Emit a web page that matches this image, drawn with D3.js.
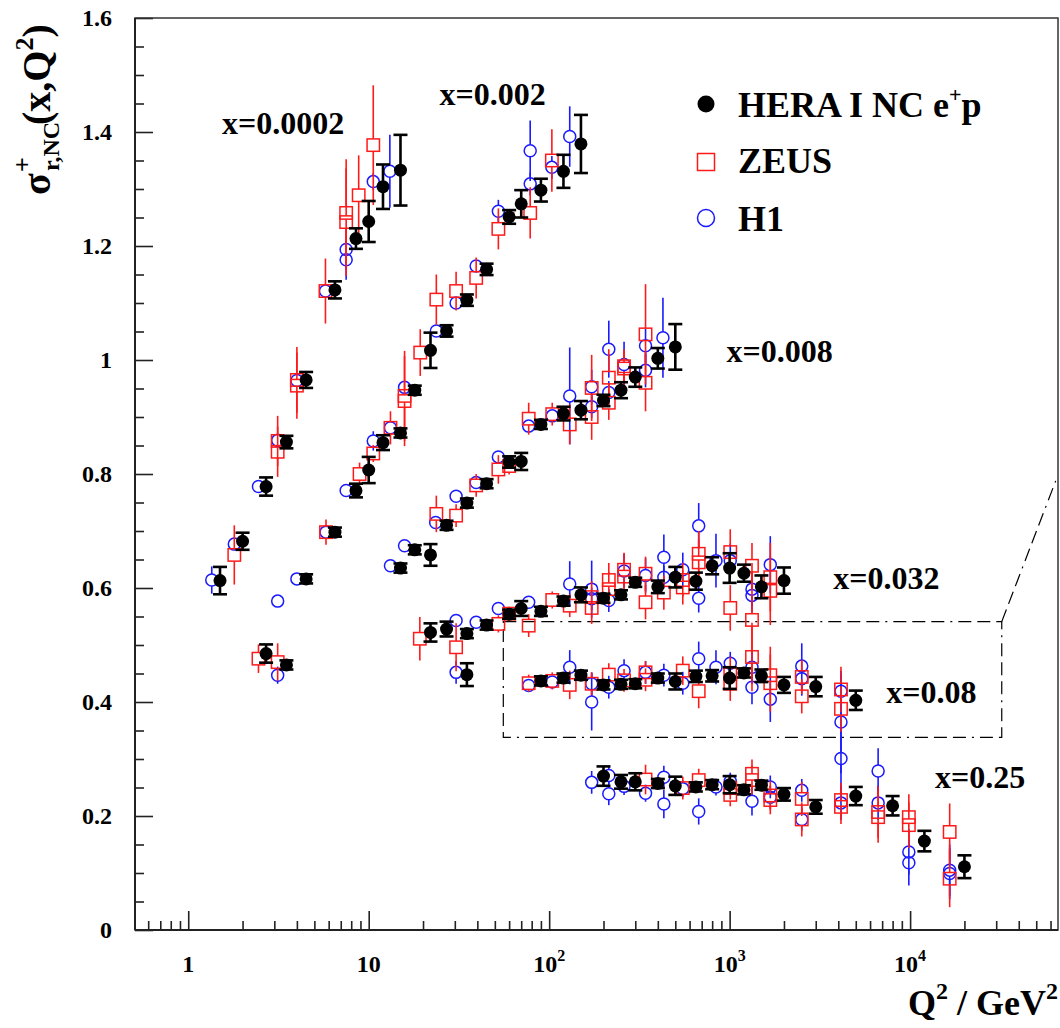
<!DOCTYPE html>
<html><head><meta charset="utf-8">
<script src="https://cdn.jsdelivr.net/npm/d3@7"></script>
<style>
body{margin:0;background:#fff}
svg{display:block}
text{font-family:"Liberation Serif","Times New Roman",serif;font-weight:bold;fill:#000}
</style>
</head><body>
<svg id="chart" width="1060" height="1028"></svg>
<script>
// ---------------- DATA: [Q2 (GeV^2), sigma_r, error] ----------------
// HERA I NC e+p (combined)
const heraX0002 = [[1.5,0.613,0.024],[2.0,0.682,0.015],[2.7,0.778,0.016],[3.5,0.856,0.011],[4.5,0.965,0.014],[6.5,1.123,0.015],[8.5,1.213,0.018],[10,1.243,0.036],[12,1.304,0.039],[15,1.333,0.062]];
const heraX002 = [[2.7,0.485,0.016],[3.5,0.465,0.008],[4.5,0.616,0.008],[6.5,0.698,0.008],[8.5,0.771,0.012],[10,0.807,0.023],[12,0.855,0.013],[15,0.872,0.008],[18,0.947,0.008],[22,1.017,0.031],[27,1.051,0.01],[35,1.105,0.01],[45,1.159,0.01],[60,1.251,0.012],[70,1.274,0.024],[90,1.298,0.02],[120,1.331,0.029],[150,1.379,0.051]];
const heraX008 = [[15,0.635,0.008],[18,0.667,0.008],[22,0.658,0.019],[27,0.710,0.008],[35,0.749,0.008],[45,0.783,0.008],[60,0.821,0.01],[70,0.822,0.015],[90,0.887,0.008],[120,0.906,0.012],[150,0.912,0.016],[200,0.929,0.01],[250,0.947,0.014],[300,0.970,0.017],[400,1.003,0.018],[500,1.023,0.04]];
const heraX032 = [[22,0.522,0.016],[27,0.528,0.013],[35,0.520,0.008],[35,0.448,0.02],[45,0.535,0.008],[60,0.554,0.008],[70,0.564,0.013],[90,0.559,0.008],[120,0.577,0.008],[150,0.588,0.013],[200,0.582,0.008],[250,0.588,0.008],[300,0.610,0.008],[400,0.602,0.011],[500,0.619,0.018],[650,0.612,0.015],[800,0.639,0.015],[1000,0.635,0.026],[1200,0.626,0.015],[1500,0.602,0.02],[2000,0.613,0.023]];
const heraX08 = [[90,0.437,0.008],[120,0.442,0.008],[150,0.447,0.008],[200,0.430,0.008],[250,0.431,0.008],[300,0.432,0.008],[400,0.442,0.008],[500,0.436,0.014],[650,0.445,0.01],[800,0.446,0.01],[1000,0.442,0.019],[1200,0.451,0.008],[1500,0.446,0.011],[2000,0.430,0.014],[3000,0.427,0.017],[5000,0.403,0.017]];
const heraX25 = [[200,0.270,0.017],[250,0.260,0.012],[300,0.260,0.015],[400,0.257,0.008],[500,0.253,0.016],[650,0.251,0.008],[800,0.255,0.008],[1000,0.255,0.015],[1200,0.246,0.008],[1500,0.254,0.008],[2000,0.238,0.011],[3000,0.216,0.012],[5000,0.235,0.016],[8000,0.218,0.017],[12000,0.156,0.018],[20000,0.111,0.02]];

// ZEUS
const zeusX0002 = [[1.8,0.658,0.052],[3.13,0.858,0.044],[3.13,0.839,0.044],[4.0,0.965,0.058],[4.0,0.955,0.058],[5.76,1.121,0.057],[7.5,1.258,0.094],[7.5,1.242,0.094],[8.8,1.289,0.07],[10.6,1.377,0.105]];
const zeusX002 = [[2.45,0.476,0.025],[3.13,0.470,0.033],[5.8,0.698,0.022],[8.9,0.800,0.02],[10.6,0.836,0.015],[13.2,0.881,0.029],[15.8,0.937,0.079],[15.8,0.928,0.079],[19.3,1.013,0.041],[23.7,1.106,0.044],[30.5,1.121,0.034],[39.4,1.144,0.036],[52.3,1.230,0.036],[78.5,1.258,0.045],[103.5,1.350,0.055]];
const zeusX008 = [[23.7,0.730,0.032],[30.5,0.727,0.02],[39.4,0.780,0.02],[52.3,0.808,0.025],[60,0.814,0.015],[77,0.897,0.028],[104,0.905,0.02],[130,0.887,0.035],[172,0.951,0.058],[172,0.900,0.04],[214,0.969,0.05],[214,0.925,0.03],[260,0.989,0.03],[260,0.985,0.03],[342,1.045,0.088],[342,0.960,0.05]];
const zeusX032 = [[19.2,0.511,0.038],[30.5,0.496,0.042],[52.3,0.537,0.015],[60,0.555,0.012],[77,0.534,0.02],[104,0.579,0.015],[130,0.569,0.02],[172,0.584,0.028],[172,0.565,0.028],[214,0.614,0.03],[214,0.598,0.03],[260,0.632,0.03],[260,0.620,0.03],[342,0.625,0.03],[342,0.575,0.03],[432,0.592,0.03],[550,0.614,0.03],[550,0.601,0.03],[674,0.660,0.04],[674,0.645,0.04],[1008,0.663,0.04],[1008,0.565,0.04],[1330,0.639,0.04],[1330,0.544,0.1],[1680,0.619,0.06],[1680,0.595,0.06]];
const zeusX08 = [[77,0.433,0.015],[104,0.437,0.015],[130,0.430,0.025],[172,0.432,0.02],[214,0.448,0.02],[260,0.438,0.02],[342,0.452,0.02],[342,0.439,0.02],[550,0.455,0.025],[674,0.419,0.03],[1008,0.449,0.03],[1008,0.432,0.03],[1330,0.479,0.06],[1680,0.447,0.05],[1680,0.433,0.05],[2510,0.444,0.03],[2510,0.410,0.03],[4140,0.422,0.04],[4140,0.388,0.04]];
const zeusX25 = [[342,0.264,0.026],[550,0.249,0.02],[674,0.263,0.02],[1008,0.249,0.02],[1008,0.237,0.02],[1330,0.274,0.025],[1330,0.263,0.025],[1680,0.236,0.025],[1680,0.228,0.025],[2510,0.230,0.03],[2510,0.194,0.03],[4140,0.228,0.03],[4140,0.216,0.03],[6650,0.207,0.045],[6650,0.198,0.045],[9840,0.198,0.04],[9840,0.184,0.04],[16570,0.172,0.05],[16570,0.090,0.05]];

// H1
const h1X0002 = [[1.35,0.614,0.024],[1.8,0.677,0.01],[2.45,0.778,0.01],[3.13,0.859,0.01],[4.0,0.964,0.01],[5.76,1.121,0.01],[7.5,1.194,0.035],[7.5,1.176,0.035],[10.6,1.313,0.015],[13.1,1.331,0.064]];
const h1X002 = [[3.13,0.447,0.015],[3.13,0.577,0.01],[4.0,0.616,0.01],[5.8,0.698,0.01],[7.5,0.771,0.01],[10.6,0.858,0.017],[13.2,0.881,0.01],[15.8,0.952,0.01],[23.7,1.051,0.01],[30.5,1.100,0.01],[39.4,1.165,0.01],[52.3,1.261,0.02],[78.5,1.309,0.02],[78.5,1.367,0.053],[103.5,1.338,0.02],[130,1.392,0.053]];
const h1X008 = [[13.2,0.639,0.01],[15.8,0.674,0.01],[23.5,0.715,0.01],[30.5,0.761,0.01],[39.4,0.785,0.01],[52.3,0.830,0.01],[77,0.884,0.01],[104,0.902,0.01],[130,0.937,0.085],[172,0.918,0.02],[172,0.953,0.03],[214,1.019,0.05],[214,0.943,0.02],[260,0.992,0.04],[342,1.025,0.03],[342,0.982,0.03],[427,1.039,0.07]];
const h1X032 = [[30.5,0.543,0.01],[30.5,0.452,0.02],[39.4,0.540,0.01],[52.3,0.564,0.01],[77,0.575,0.01],[130,0.607,0.04],[172,0.598,0.05],[172,0.581,0.02],[214,0.578,0.02],[260,0.630,0.03],[342,0.622,0.03],[432,0.654,0.04],[432,0.619,0.02],[550,0.632,0.03],[674,0.709,0.04],[674,0.582,0.025],[840,0.648,0.047],[1008,0.648,0.03],[1330,0.598,0.03],[1330,0.587,0.03],[1680,0.641,0.05]];
const h1X08 = [[77,0.429,0.01],[104,0.435,0.01],[130,0.461,0.03],[172,0.432,0.02],[172,0.400,0.05],[214,0.426,0.02],[260,0.455,0.02],[342,0.452,0.02],[432,0.447,0.02],[550,0.433,0.02],[674,0.476,0.03],[840,0.461,0.03],[1008,0.468,0.02],[1330,0.461,0.03],[1330,0.426,0.03],[1680,0.405,0.04],[2510,0.463,0.04],[2510,0.441,0.03],[4140,0.419,0.03],[4140,0.365,0.09]];
const h1X25 = [[172,0.259,0.02],[214,0.271,0.015],[214,0.239,0.02],[260,0.252,0.015],[342,0.240,0.015],[432,0.268,0.02],[432,0.221,0.025],[550,0.248,0.015],[674,0.208,0.023],[840,0.251,0.015],[1008,0.261,0.015],[1330,0.226,0.025],[1680,0.251,0.02],[1680,0.233,0.02],[2510,0.245,0.02],[2510,0.194,0.02],[4140,0.301,0.09],[4140,0.223,0.03],[6650,0.279,0.04],[6650,0.223,0.03],[9840,0.137,0.04],[9840,0.118,0.04],[16570,0.105,0.045],[16570,0.099,0.045]];

// bin labels and their anchor (Q2, sigma) in data coordinates
const binLabels = ["x=0.0002","x=0.002","x=0.008","x=0.032","x=0.08","x=0.25"];
const binLabelQ2 = [1.54, 24.7, 962, 3756, 7370, 13740];
const binLabelSigma = [1.396, 1.447, 0.9965, 0.599, 0.399, 0.249];

// tick labels
const yTickValues = [0,0.2,0.4,0.6,0.8,1.0,1.2,1.4,1.6];
const yTickLabels = ["0","0.2","0.4","0.6","0.8","1","1.2","1.4","1.6"];
const xTickValues = [1,10,100,1000,10000];
const xTickBase = ["1","10","10","10","10"];
const xTickExp = ["","","2","3","4"];

// zoom box (data coords) : Q2 range, sigma range, and pointer end
const boxQ2 = [55.7, 32200];
const boxSigma = [0.338, 0.541];
const pointerEnd = [64100, 0.788];

// ---------------- DRAWING ----------------
const svg = d3.select("#chart");
const M = {l:135, r:1058, t:18, b:930};
const x = d3.scaleLog().domain([0.507, 66000]).range([M.l, M.r]);
const y = d3.scaleLinear().domain([0, 1.6]).range([M.b, M.t]);

svg.append("defs").append("clipPath").attr("id","plotclip")
  .append("rect").attr("x",M.l).attr("y",M.t).attr("width",M.r-M.l).attr("height",M.b-M.t);

// Y axis: major and minor ticks (inside)
const yMinor = d3.range(0, 1.6001, 0.05).filter(v => Math.abs(Math.round(v*5)-v*5) > 1e-6);
const yAxMinor = svg.append("g").attr("transform",`translate(${M.l},0)`)
  .call(d3.axisLeft(y).tickValues(yMinor).tickSize(-9).tickSizeOuter(0).tickFormat(""));
const yAxMajor = svg.append("g").attr("transform",`translate(${M.l},0)`)
  .call(d3.axisLeft(y).tickValues(yTickValues).tickSize(-18).tickSizeOuter(0).tickPadding(23)
    .tickFormat((d,i)=>yTickLabels[i]));
[yAxMinor,yAxMajor].forEach(g=>{
  g.select(".domain").remove();
  g.selectAll("line").attr("stroke","#222").attr("stroke-width",1.6);
});
yAxMajor.selectAll("text").attr("font-size",24).attr("font-family","Liberation Serif").attr("font-weight","bold").attr("fill","#000");

// X axis minor ticks
const xMinor = [];
for (let e=-1; e<=4; e++) for (let k=2; k<=9; k++) { const v=k*Math.pow(10,e); if (v>=0.507 && v<=66000) xMinor.push(v); }
const xAxMinor = svg.append("g").attr("transform",`translate(0,${M.b})`)
  .call(d3.axisBottom(x).tickValues(xMinor).tickSize(-9).tickSizeOuter(0).tickFormat(""));
const xAxMajor = svg.append("g").attr("transform",`translate(0,${M.b})`)
  .call(d3.axisBottom(x).tickValues(xTickValues).tickSize(-19).tickSizeOuter(0).tickFormat(""));
[xAxMinor,xAxMajor].forEach(g=>{
  g.select(".domain").remove();
  g.selectAll("line").attr("stroke","#222").attr("stroke-width",1.6);
});
// X tick labels with superscripts
xTickValues.forEach((v,i)=>{
  const t = svg.append("text").attr("x", x(v)).attr("y", 972).attr("font-size",24).attr("text-anchor","middle");
  t.append("tspan").text(xTickBase[i]);
  if (xTickExp[i]) t.append("tspan").attr("font-size",16).attr("dy",-11).text(xTickExp[i]);
});

// frame
svg.append("rect").attr("x",M.l).attr("y",M.t).attr("width",M.r-M.l).attr("height",M.b-M.t)
  .attr("fill","none").attr("stroke","#333").attr("stroke-width",1.5);
svg.append("line").attr("x1",M.l).attr("x2",M.l).attr("y1",M.t).attr("y2",M.b).attr("stroke","#222").attr("stroke-width",2);
svg.append("line").attr("x1",M.l).attr("x2",M.r).attr("y1",M.b).attr("y2",M.b).attr("stroke","#222").attr("stroke-width",2);

const plot = svg.append("g").attr("clip-path","url(#plotclip)");

// zoom box (dash-dot)
const dashStyle = "13,6,13,6,13,6,2,6";
const bx0 = x(boxQ2[0]), bx1 = x(boxQ2[1]), by0 = y(boxSigma[1]), by1 = y(boxSigma[0]);
plot.append("path")
  .attr("d", `M${bx0},${by0}L${bx1},${by0}L${bx1},${by1}L${bx0},${by1}Z`)
  .attr("fill","none").attr("stroke","#000").attr("stroke-width",1.2).attr("stroke-dasharray",dashStyle);
plot.append("line").attr("x1",bx1).attr("y1",by0).attr("x2",x(pointerEnd[0])).attr("y2",y(pointerEnd[1]))
  .attr("stroke","#000").attr("stroke-width",1.2).attr("stroke-dasharray",dashStyle);

// series
const h1All = [h1X0002,h1X002,h1X008,h1X032,h1X08,h1X25].flat();
const zeusAll = [zeusX0002,zeusX002,zeusX008,zeusX032,zeusX08,zeusX25].flat();
const heraAll = [heraX0002,heraX002,heraX008,heraX032,heraX08,heraX25].flat();

function openSeries(data, color, half, shape){
  const g = plot.append("g");
  data.forEach(d=>{
    const cx = x(d[0]), cy = y(d[1]), yt = y(d[1]+d[2]), yb = y(d[1]-d[2]);
    if (cy-half > yt) g.append("line").attr("x1",cx).attr("x2",cx).attr("y1",yt).attr("y2",cy-half).attr("stroke",color).attr("stroke-width",1.6);
    if (yb > cy+half) g.append("line").attr("x1",cx).attr("x2",cx).attr("y1",cy+half).attr("y2",yb).attr("stroke",color).attr("stroke-width",1.6);
    if (shape==="square") g.append("rect").attr("x",cx-half).attr("y",cy-half).attr("width",2*half).attr("height",2*half)
        .attr("fill","none").attr("stroke",color).attr("stroke-width",1.5);
    else g.append("circle").attr("cx",cx).attr("cy",cy).attr("r",half).attr("fill","none").attr("stroke",color).attr("stroke-width",1.5);
  });
}
openSeries(h1All, "#1a1aff", 6, "circle");
openSeries(zeusAll, "#ff1a1a", 6.2, "square");

const gH = plot.append("g");
heraAll.forEach(d=>{
  const cx = x(d[0]), yt = y(d[1]+d[2]), yb = y(d[1]-d[2]);
  gH.append("line").attr("x1",cx).attr("x2",cx).attr("y1",yt).attr("y2",yb).attr("stroke","#000").attr("stroke-width",2.6);
  gH.append("line").attr("x1",cx-7).attr("x2",cx+7).attr("y1",yt).attr("y2",yt).attr("stroke","#000").attr("stroke-width",2.6);
  gH.append("line").attr("x1",cx-7).attr("x2",cx+7).attr("y1",yb).attr("y2",yb).attr("stroke","#000").attr("stroke-width",2.6);
  gH.append("circle").attr("cx",cx).attr("cy",y(d[1])).attr("r",6.5).attr("fill","#000");
});

// bin labels
binLabels.forEach((s,i)=>{
  svg.append("text").attr("x",x(binLabelQ2[i])).attr("y",y(binLabelSigma[i])).attr("font-size",32).text(s);
});

// legend
const lg = svg.append("g");
lg.append("circle").attr("cx",706).attr("cy",104).attr("r",8.5).attr("fill","#000");
lg.append("rect").attr("x",697.5).attr("y",153.5).attr("width",17).attr("height",17).attr("fill","none").attr("stroke","#ff1a1a").attr("stroke-width",1.5);
lg.append("circle").attr("cx",706).attr("cy",218).attr("r",8.5).attr("fill","none").attr("stroke","#1a1aff").attr("stroke-width",1.5);
const t1 = lg.append("text").attr("x",738).attr("y",117).attr("font-size",36);
t1.append("tspan").text("HERA I NC e");
t1.append("tspan").attr("font-size",22).attr("dy",-15).text("+");
t1.append("tspan").attr("dy",15).text("p");
lg.append("text").attr("x",738).attr("y",173).attr("font-size",36).text("ZEUS");
lg.append("text").attr("x",738).attr("y",231).attr("font-size",36).text("H1");

// axis titles
const xt = svg.append("text").attr("x",1058).attr("y",1015).attr("font-size",36).attr("text-anchor","end");
xt.append("tspan").text("Q");
xt.append("tspan").attr("font-size",24).attr("dy",-16).text("2");
xt.append("tspan").attr("dy",16).text(" / GeV");
xt.append("tspan").attr("font-size",24).attr("dy",-16).text("2");

const yt = svg.append("g").attr("transform","translate(50,197) rotate(-90)");
yt.append("text").attr("x",2).attr("y",0).attr("font-size",40).text("σ");
yt.append("text").attr("x",25).attr("y",-19).attr("font-size",26).text("+");
yt.append("text").attr("x",26).attr("y",9).attr("font-size",24).text("r,NC");
const yt2 = yt.append("text").attr("x",72).attr("y",0).attr("font-size",40);
yt2.append("tspan").text("(x,Q");
yt2.append("tspan").attr("font-size",26).attr("dy",-17).text("2");
yt2.append("tspan").attr("dy",17).text(")");
</script>
</body></html>
